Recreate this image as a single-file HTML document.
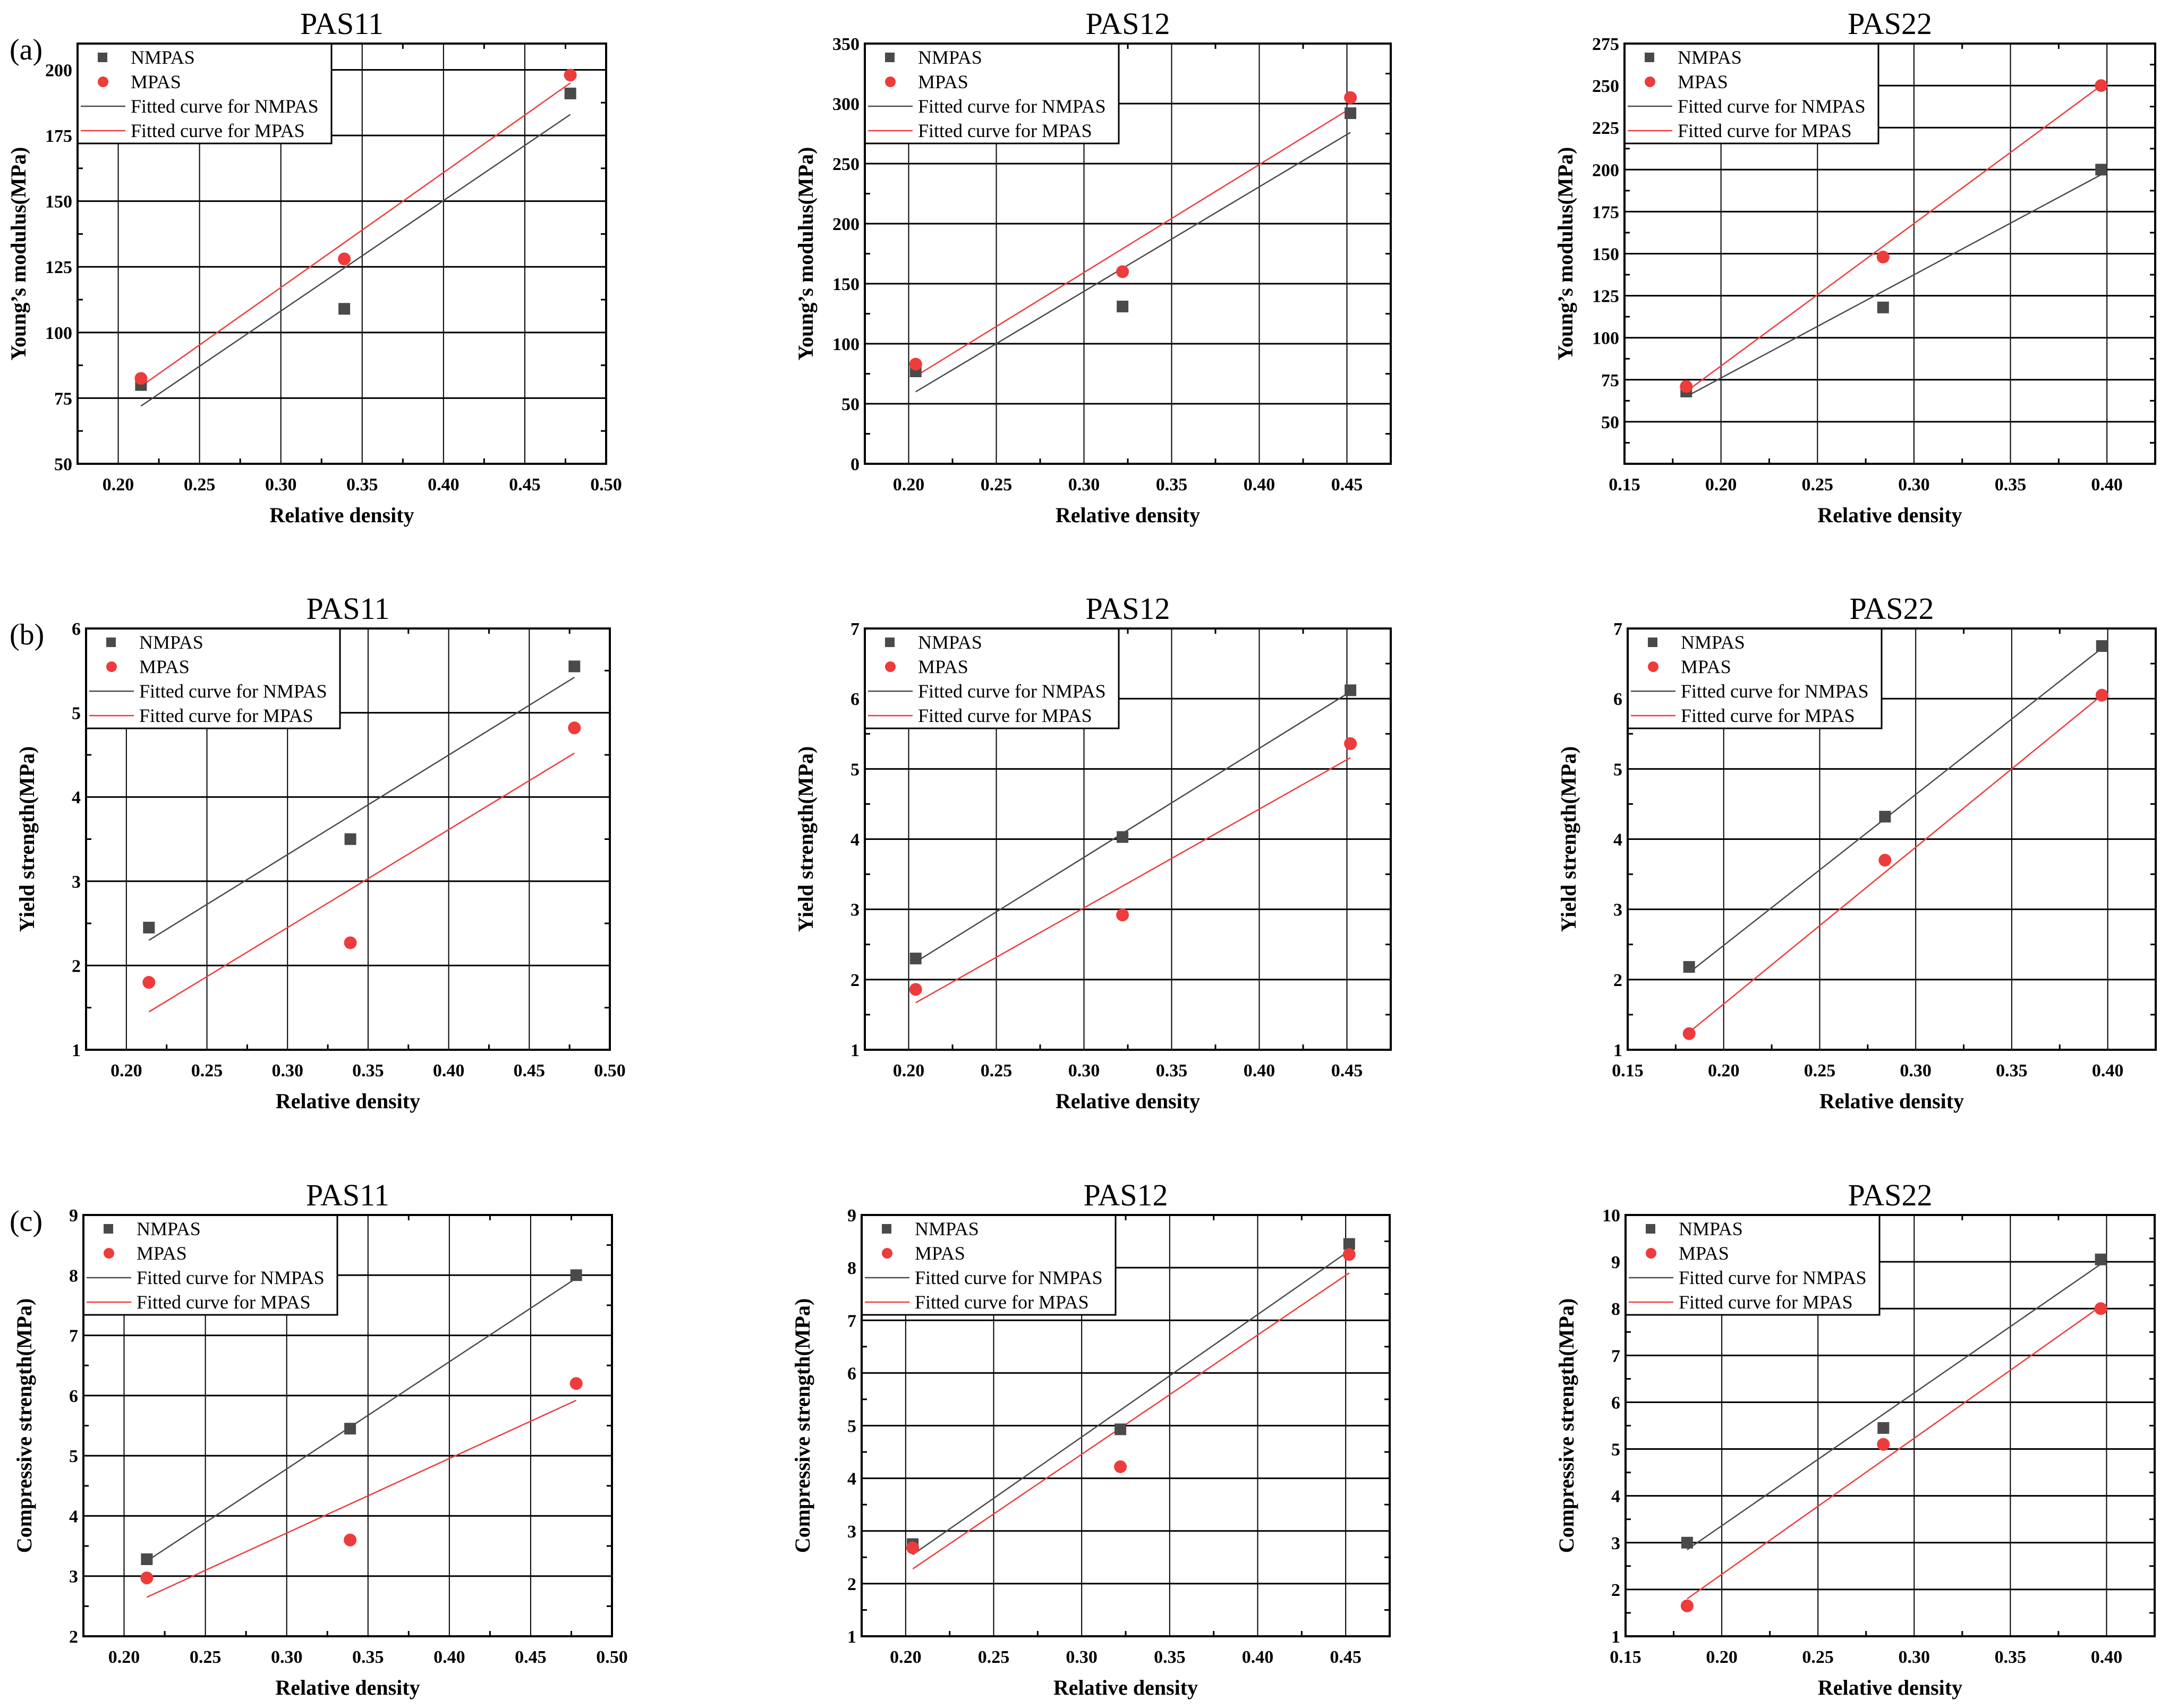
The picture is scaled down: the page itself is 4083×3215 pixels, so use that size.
<!DOCTYPE html>
<html><head><meta charset="utf-8">
<style>
html,body{margin:0;padding:0;background:#fff;}
svg{display:block;}
svg text{font-family:"Liberation Serif","DejaVu Serif",serif !important;fill:#000;}
</style></head>
<body>
<svg id="fig" xmlns="http://www.w3.org/2000/svg" width="4083" height="3215" viewBox="0 0 4083 3215" font-family="'Liberation Serif', 'DejaVu Serif', serif"></svg>
<script>
// ---- data (top level) ----
const titles = ["PAS11","PAS12","PAS22","PAS11","PAS12","PAS22","PAS11","PAS12","PAS22"];
const yTitles = ["Young\u2019s modulus(MPa)","Yield strength(MPa)","Compressive strength(MPa)"];
const rowLetters = ["(a)","(b)","(c)"];
const densityPAS11 = [0.214, 0.339, 0.478];
const densityPAS12 = [0.204, 0.322, 0.452];
const densityPAS22 = [0.182, 0.284, 0.397];
const xTicksPAS11 = [0.20,0.25,0.30,0.35,0.40,0.45,0.50];
const xTicksPAS12 = [0.20,0.25,0.30,0.35,0.40,0.45];
const xTicksPAS22 = [0.15,0.20,0.25,0.30,0.35,0.40];
const xRangePAS11 = [0.175, 0.50];
const xRangePAS12 = [0.175, 0.475];
const xRangePAS22 = [0.15, 0.425];
// Young's modulus
const ymNM11 = [80, 109, 191];   const ymM11 = [82.5, 128, 198];
const ymNM12 = [77, 131, 292];   const ymM12 = [83, 160, 305];
const ymNM22 = [68, 118, 200];   const ymM22 = [71, 148, 250];
const ymFitNM11 = [72, 183];     const ymFitM11 = [79.5, 195];
const ymFitNM12 = [60, 276];     const ymFitM12 = [73, 296];
const ymFitNM22 = [65, 197];     const ymFitM22 = [68, 250];
// Yield strength
const ysNM11 = [2.45, 3.5, 5.55]; const ysM11 = [1.8, 2.27, 4.82];
const ysNM12 = [2.3, 4.03, 6.12]; const ysM12 = [1.86, 2.92, 5.36];
const ysNM22 = [2.18, 4.32, 6.75]; const ysM22 = [1.23, 3.7, 6.05];
const ysFitNM11 = [2.3, 5.42];    const ysFitM11 = [1.45, 4.52];
const ysFitNM12 = [2.25, 6.1];    const ysFitM12 = [1.67, 5.16];
const ysFitNM22 = [2.1, 6.72];    const ysFitM22 = [1.25, 6.05];
// Compressive strength
const csNM11 = [3.28, 5.45, 8.0]; const csM11 = [2.97, 3.6, 6.2];
const csNM12 = [2.75, 4.93, 8.45]; const csM12 = [2.68, 4.22, 8.25];
const csNM22 = [3.0, 5.45, 9.05]; const csM22 = [1.65, 5.1, 8.0];
const csFitNM11 = [3.25, 7.95];   const csFitM11 = [2.65, 5.92];
const csFitNM12 = [2.55, 8.32];   const csFitM12 = [2.28, 7.9];
const csFitNM22 = [2.85, 8.95];   const csFitM22 = [1.8, 8.05];
// y ticks
const yTicksYM11 = [50,75,100,125,150,175,200]; const yRangeYM11 = [50, 210];
const yTicksYM12 = [0,50,100,150,200,250,300,350]; const yRangeYM12 = [0, 350];
const yTicksYM22 = [50,75,100,125,150,175,200,225,250,275]; const yRangeYM22 = [25, 275];
const yTicksYS11 = [1,2,3,4,5,6]; const yRangeYS11 = [1, 6];
const yTicksYS12 = [1,2,3,4,5,6,7]; const yRangeYS12 = [1, 7];
const yTicksYS22 = [1,2,3,4,5,6,7]; const yRangeYS22 = [1, 7];
const yTicksCS11 = [2,3,4,5,6,7,8,9]; const yRangeCS11 = [2, 9];
const yTicksCS12 = [1,2,3,4,5,6,7,8,9]; const yRangeCS12 = [1, 9];
const yTicksCS22 = [1,2,3,4,5,6,7,8,9,10]; const yRangeCS22 = [1, 10];

// ---- layout ----
const NS = "http://www.w3.org/2000/svg";
const FONT = "'Liberation Serif', 'DejaVu Serif', serif";
const svg = document.getElementById('fig');
function mk(tag, attrs, parent){const e=document.createElementNS(NS,tag);for(const k in attrs)e.setAttribute(k,attrs[k]);if(tag==='text')e.setAttribute('font-family',FONT);(parent||svg).appendChild(e);return e;}

const rowBox = [[82,873],[1183,1976],[2287,3080]];
const colBox = [[[146,1141],[1628,2618],[3058,4057]],
                [[162,1148],[1628,2618],[3064,4058]],
                [[157,1152],[1622,2616],[3060,4056]]];
const panels = [
 {xs:densityPAS11,xt:xTicksPAS11,xr:xRangePAS11,nm:ymNM11,m:ymM11,fnm:ymFitNM11,fm:ymFitM11,yt:yTicksYM11,yr:yRangeYM11},
 {xs:densityPAS12,xt:xTicksPAS12,xr:xRangePAS12,nm:ymNM12,m:ymM12,fnm:ymFitNM12,fm:ymFitM12,yt:yTicksYM12,yr:yRangeYM12},
 {xs:densityPAS22,xt:xTicksPAS22,xr:xRangePAS22,nm:ymNM22,m:ymM22,fnm:ymFitNM22,fm:ymFitM22,yt:yTicksYM22,yr:yRangeYM22},
 {xs:densityPAS11,xt:xTicksPAS11,xr:xRangePAS11,nm:ysNM11,m:ysM11,fnm:ysFitNM11,fm:ysFitM11,yt:yTicksYS11,yr:yRangeYS11},
 {xs:densityPAS12,xt:xTicksPAS12,xr:xRangePAS12,nm:ysNM12,m:ysM12,fnm:ysFitNM12,fm:ysFitM12,yt:yTicksYS12,yr:yRangeYS12},
 {xs:densityPAS22,xt:xTicksPAS22,xr:xRangePAS22,nm:ysNM22,m:ysM22,fnm:ysFitNM22,fm:ysFitM22,yt:yTicksYS22,yr:yRangeYS22},
 {xs:densityPAS11,xt:xTicksPAS11,xr:xRangePAS11,nm:csNM11,m:csM11,fnm:csFitNM11,fm:csFitM11,yt:yTicksCS11,yr:yRangeCS11},
 {xs:densityPAS12,xt:xTicksPAS12,xr:xRangePAS12,nm:csNM12,m:csM12,fnm:csFitNM12,fm:csFitM12,yt:yTicksCS12,yr:yRangeCS12},
 {xs:densityPAS22,xt:xTicksPAS22,xr:xRangePAS22,nm:csNM22,m:csM22,fnm:csFitNM22,fm:csFitM22,yt:yTicksCS22,yr:yRangeCS22}
];
const GRAY="#4a4a4a", RED="#ee3b3b";

panels.forEach((p,i)=>{
  const r=Math.floor(i/3), c=i%3;
  const L=colBox[r][c][0], R=colBox[r][c][1], T=rowBox[r][0], B=rowBox[r][1];
  const g=mk('g',{});
  
  
  const sx=v=>L+(v-p.xr[0])/(p.xr[1]-p.xr[0])*(R-L);
  const sy=v=>B-(v-p.yr[0])/(p.yr[1]-p.yr[0])*(B-T);
  // grid
  p.xt.forEach(t=>{const x=sx(t); if(x>L+3&&x<R-3){const l=mk('line',{x1:x,y1:T,x2:x,y2:B,stroke:'#000','stroke-width':2},g);
    }});
  p.yt.forEach(t=>{const y=sy(t); if(y>T+3&&y<B-3){const l=mk('line',{x1:L,y1:y,x2:R,y2:y,stroke:'#000','stroke-width':3},g);
    }});
  // minor ticks
  for(let k=0;k<p.xt.length;k++){const t=p.xt[k]+(p.xt[1]-p.xt[0])/2;const x=sx(t);if(x>L&&x<R){
    mk('line',{x1:x,y1:B,x2:x,y2:B-10,stroke:'#000','stroke-width':3},g);mk('line',{x1:x,y1:T,x2:x,y2:T+10,stroke:'#000','stroke-width':3},g);}}
  for(let k=-1;k<p.yt.length;k++){const t=p.yt[0]+(k+0.5)*(p.yt[1]-p.yt[0]);const y=sy(t);if(y>T&&y<B){
    mk('line',{x1:L,y1:y,x2:L+10,y2:y,stroke:'#000','stroke-width':3},g);mk('line',{x1:R,y1:y,x2:R-10,y2:y,stroke:'#000','stroke-width':3},g);}}
  // fits
  const fn=mk('line',{x1:sx(p.xs[0]),y1:sy(p.fnm[0]),x2:sx(p.xs[2]),y2:sy(p.fnm[1]),stroke:GRAY,'stroke-width':2.5},g);
  
  const fm=mk('line',{x1:sx(p.xs[0]),y1:sy(p.fm[0]),x2:sx(p.xs[2]),y2:sy(p.fm[1]),stroke:RED,'stroke-width':2.5},g);
  
  // points
  p.xs.forEach((x,k)=>{
    const s=mk('rect',{x:sx(x)-11,y:sy(p.nm[k])-11,width:22,height:22,fill:GRAY},g);
    
    const cc=mk('circle',{cx:sx(x),cy:sy(p.m[k]),r:12,fill:RED},g);
    
  });
  // legend
  const lg=mk('g',{},g);
  
  mk('rect',{x:L,y:T,width:478,height:188,fill:'#fff',stroke:'#000','stroke-width':3},lg);
  const ly=[T+26,T+72,T+118,T+164];
  mk('rect',{x:L+38,y:ly[0]-9,width:18,height:18,fill:GRAY},lg);
  mk('circle',{cx:L+48,cy:ly[1],r:10,fill:RED},lg);
  mk('line',{x1:L+6,y1:ly[2],x2:L+90,y2:ly[2],stroke:GRAY,'stroke-width':2.5},lg);
  mk('line',{x1:L+6,y1:ly[3],x2:L+90,y2:ly[3],stroke:RED,'stroke-width':2.5},lg);
  ["NMPAS","MPAS","Fitted curve for NMPAS","Fitted curve for MPAS"].forEach((s,k)=>{
    const t=mk('text',{x:L+100,y:ly[k]+12,'font-size':36},lg);t.textContent=s;
    
  });
  // frame
  mk('rect',{x:L,y:T,width:R-L,height:B-T,fill:'none',stroke:'#000','stroke-width':4},g);
  // tick labels
  p.xt.forEach(t=>{const tx=mk('text',{x:sx(t),y:B+50,'font-size':34,'font-weight':'bold','text-anchor':'middle'},g);
    tx.textContent=t.toFixed(2);});
  p.yt.forEach(t=>{const tx=mk('text',{x:L-10,y:sy(t)+12,'font-size':34,'font-weight':'bold','text-anchor':'end'},g);
    tx.textContent=String(t);});
  // titles
  const ti=mk('text',{x:(L+R)/2,y:T-18,'font-size':58,'text-anchor':'middle'},g);
  ti.textContent=titles[i];
  const xl=mk('text',{x:(L+R)/2,y:B+110,'font-size':40,'font-weight':'bold','text-anchor':'middle'},g);
  xl.textContent="Relative density";
  const yx=L-98, yy=(T+B)/2;
  const yl=mk('text',{x:yx,y:yy,'font-size':40,'font-weight':'bold','text-anchor':'middle',transform:`rotate(-90 ${yx} ${yy})`},g);
  yl.textContent=yTitles[r];
  if(c===0){const pl=mk('text',{x:18,y:T+30,'font-size':56},g);pl.textContent=rowLetters[r];
    }
});
</script>
</body></html>
